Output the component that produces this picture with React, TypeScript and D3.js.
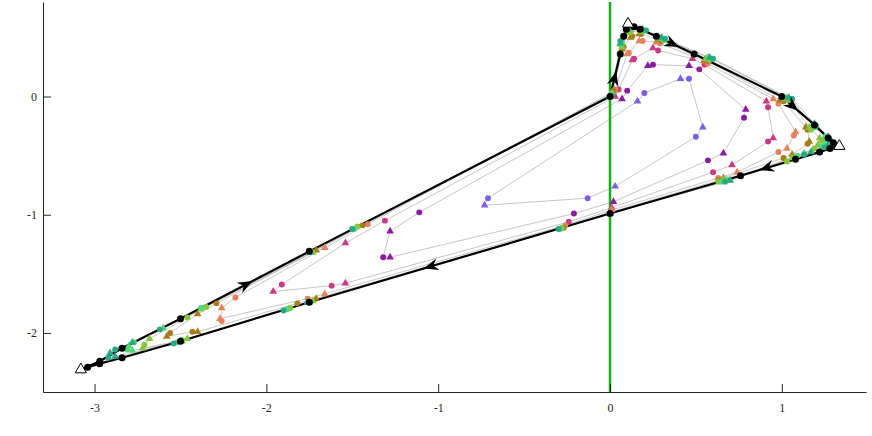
import React, { useEffect, useRef } from 'react';
import * as d3 from 'd3';

// closed loops, inner to outer; even index = triangle, odd index = circle
const loopBlue = [[0.16,-0.04],[0.20,0.03],[0.41,0.15],[0.46,0.15],[0.54,-0.26],[0.50,-0.34],[0.03,-0.76],[-0.13,-0.86],[-0.73,-0.92],[-0.71,-0.86]];
const loopPurple = [[0.07,-0.02],[0.10,0.05],[0.22,0.26],[0.25,0.27],[0.46,0.26],[0.52,0.23],[0.79,-0.11],[0.78,-0.18],[0.66,-0.48],[0.57,-0.54],[0.02,-0.89],[-0.21,-0.99],[-1.28,-1.36],[-1.32,-1.36],[-1.28,-1.14],[-1.11,-0.98]];
const loopMagenta = [[0.03,0.00],[0.05,0.06],[0.13,0.31],[0.14,0.32],[0.25,0.41],[0.28,0.39],[0.48,0.32],[0.55,0.27],[0.91,-0.04],[0.92,-0.09],[0.95,-0.35],[0.92,-0.38],[0.71,-0.58],[0.60,-0.64],[0.01,-0.94],[-0.24,-1.06],[-1.54,-1.58],[-1.62,-1.60],[-1.96,-1.65],[-1.91,-1.59],[-1.54,-1.24],[-1.31,-1.05]];
const loopSalmon = [[0.02,0.04],[0.03,0.06],[0.10,0.36],[0.11,0.37],[0.17,0.47],[0.19,0.47],[0.27,0.46],[0.29,0.45],[0.55,0.30],[0.57,0.28],[0.95,-0.02],[0.98,-0.06],[1.08,-0.30],[1.07,-0.33],[1.03,-0.44],[0.98,-0.47],[0.74,-0.64],[0.63,-0.69],[0.01,-0.96],[-0.26,-1.09],[-1.66,-1.67],[-1.76,-1.71],[-2.27,-1.88],[-2.26,-1.90],[-2.26,-1.79],[-2.18,-1.70],[-1.66,-1.28],[-1.41,-1.08]];
const loopOlive = [[0.01,0.02],[0.02,0.05],[0.07,0.40],[0.08,0.42],[0.12,0.50],[0.13,0.51],[0.17,0.53],[0.18,0.53],[0.28,0.48],[0.30,0.47],[0.55,0.31],[0.57,0.30],[0.99,-0.03],[1.01,-0.04],[1.14,-0.26],[1.15,-0.28],[1.16,-0.38],[1.15,-0.40],[1.06,-0.49],[1.01,-0.52],[0.66,-0.69],[0.63,-0.71],[0.00,-0.98],[-0.27,-1.11],[-1.71,-1.71],[-1.82,-1.75],[-2.40,-1.99],[-2.43,-1.99],[-2.58,-2.03],[-2.56,-2.00],[-2.40,-1.84],[-2.29,-1.75],[-1.71,-1.30],[-1.44,-1.09]];
const loopLime = [[0.00,0.01],[0.01,0.03],[0.07,0.42],[0.07,0.44],[0.11,0.54],[0.12,0.55],[0.18,0.55],[0.19,0.55],[0.29,0.49],[0.31,0.48],[0.56,0.32],[0.58,0.31],[1.02,-0.02],[1.04,-0.03],[1.16,-0.26],[1.17,-0.28],[1.22,-0.35],[1.23,-0.37],[1.21,-0.41],[1.19,-0.44],[1.06,-0.52],[1.03,-0.55],[0.66,-0.70],[0.63,-0.72],[0.00,-0.99],[-0.28,-1.11],[-1.73,-1.73],[-1.86,-1.79],[-2.46,-2.05],[-2.49,-2.06],[-2.72,-2.13],[-2.71,-2.10],[-2.68,-2.05],[-2.46,-1.87],[-2.38,-1.80],[-2.35,-1.78],[-1.73,-1.32],[-1.47,-1.10]];
const loopGreen = [[0.00,0.00],[0.01,0.02],[0.06,0.44],[0.07,0.46],[0.10,0.56],[0.11,0.57],[0.19,0.56],[0.20,0.56],[0.30,0.49],[0.32,0.48],[0.57,0.33],[0.59,0.32],[1.03,-0.01],[1.05,-0.02],[1.18,-0.24],[1.19,-0.26],[1.25,-0.34],[1.26,-0.36],[1.25,-0.40],[1.23,-0.42],[1.13,-0.48],[1.09,-0.50],[0.68,-0.71],[0.65,-0.72],[0.00,-0.99],[-0.29,-1.12],[-1.75,-1.74],[-1.88,-1.80],[-2.49,-2.07],[-2.52,-2.08],[-2.78,-2.15],[-2.81,-2.14],[-2.80,-2.11],[-2.77,-2.08],[-2.60,-1.96],[-2.38,-1.79],[-1.74,-1.32],[-1.49,-1.12]];
const loopTeal = [[0.00,0.00],[0.01,0.01],[0.06,0.45],[0.06,0.47],[0.10,0.57],[0.11,0.58],[0.19,0.57],[0.21,0.56],[0.30,0.50],[0.32,0.49],[0.58,0.33],[0.60,0.32],[1.04,-0.01],[1.06,-0.02],[1.19,-0.23],[1.20,-0.25],[1.27,-0.34],[1.28,-0.37],[1.27,-0.41],[1.25,-0.43],[1.17,-0.47],[1.13,-0.49],[0.70,-0.71],[0.67,-0.72],[0.00,-0.99],[-0.30,-1.12],[-1.76,-1.74],[-1.90,-1.81],[-2.50,-2.07],[-2.54,-2.09],[-2.88,-2.20],[-2.92,-2.21],[-2.91,-2.17],[-2.88,-2.14],[-2.78,-2.08],[-2.62,-1.97],[-1.75,-1.32],[-1.50,-1.12]];

const loopColors = ['#7b5fe4', '#8a1c9e', '#c83d82', '#e3825c', '#a67c1c', '#87c53a', '#52d67c', '#2aa882'];

// limit path (black)
const limitPath = [[0,0],[0.06,0.36],[0.08,0.51],[0.095,0.57],[0.105,0.61],[0.14,0.59],[0.175,0.57],[0.27,0.51],[0.49,0.36],[1.00,0.00],[1.19,-0.24],[1.27,-0.35],[1.30,-0.39],[1.33,-0.42],[1.28,-0.44],[1.22,-0.47],[1.08,-0.53],[0.76,-0.67],[0,-0.99],[-1.75,-1.74],[-2.50,-2.07],[-2.84,-2.21],[-2.97,-2.26],[-3.04,-2.29],[-3.08,-2.31],[-2.97,-2.24],[-2.84,-2.13],[-2.50,-1.88],[-1.75,-1.31],[0,0]];
const limitDots = [[0,0],[0.06,0.36],[0.08,0.51],[0.095,0.57],[0.14,0.59],[0.175,0.57],[0.27,0.51],[0.49,0.36],[1.00,0.00],[1.19,-0.24],[1.27,-0.35],[1.30,-0.39],[1.28,-0.44],[1.22,-0.47],[1.08,-0.53],[0.76,-0.67],[0,-0.99],[-1.75,-1.74],[-2.50,-2.07],[-2.84,-2.21],[-2.97,-2.26],[-3.04,-2.29],[-2.97,-2.24],[-2.84,-2.13],[-2.50,-1.88],[-1.75,-1.31]];
const corners = [[-3.08,-2.31],[0.105,0.615],[1.335,-0.42]];
// arrows: [segment start index in limitPath, fraction along segment]
const arrows = [[27,0.56],[0,0.6],[7,0.6],[9,0.5],[16,0.66],[18,0.62]];

const xTicks = [-3, -2, -1, 0, 1];
const yTicks = [-2, -1, 0];

const App = () => {
    const ref = useRef(null);

    useEffect(() => {
        document.body.style.margin = '0';
        const svg = d3.select(ref.current);
        svg.selectAll('*').remove();

        const width = 872, height = 436;
        const x = d3.scaleLinear().domain([-3.3, 1.49]).range([43, 866]);
        const y = d3.scaleLinear().domain([-2.5, 0.8]).range([392, 2]);

        svg.attr('width', width).attr('height', height);

        const loops = [loopBlue, loopPurple, loopMagenta, loopSalmon, loopOlive, loopLime, loopGreen, loopTeal];
        const line = d3.line().x(d => x(d[0])).y(d => y(d[1]));

        // thin grey connectors
        svg.append('g').selectAll('path')
            .data(loops)
            .enter().append('path')
            .attr('d', d => line(d) + 'Z')
            .attr('fill', 'none')
            .attr('stroke', '#b8b8b8')
            .attr('stroke-width', 0.8);

        // x = 0 line
        svg.append('line')
            .attr('x1', x(0)).attr('x2', x(0))
            .attr('y1', y(0.8)).attr('y2', y(-2.5))
            .attr('stroke', '#10b310')
            .attr('stroke-width', 2.5);

        // limit path
        svg.append('path')
            .attr('d', line(limitPath))
            .attr('fill', 'none')
            .attr('stroke', '#000')
            .attr('stroke-width', 2.2)
            .attr('stroke-linejoin', 'round');

        const tri = d3.symbol(d3.symbolTriangle, 26)();
        const dot = d3.symbol(d3.symbolCircle, 28)();

        loops.forEach((pts, k) => {
            svg.append('g').selectAll('path')
                .data(pts)
                .enter().append('path')
                .attr('d', (d, i) => (i % 2 === 0 ? tri : dot))
                .attr('transform', d => `translate(${x(d[0])},${y(d[1])})`)
                .attr('fill', loopColors[k]);
        });

        svg.append('g').selectAll('circle')
            .data(limitDots)
            .enter().append('circle')
            .attr('cx', d => x(d[0]))
            .attr('cy', d => y(d[1]))
            .attr('r', 3.5)
            .attr('fill', '#000');

        svg.append('g').selectAll('path')
            .data(corners)
            .enter().append('path')
            .attr('d', d3.symbol(d3.symbolTriangle, 55)())
            .attr('transform', d => `translate(${x(d[0])},${y(d[1])})`)
            .attr('fill', '#fff')
            .attr('stroke', '#000')
            .attr('stroke-width', 1);

        svg.append('g').selectAll('path')
            .data(arrows)
            .enter().append('path')
            .attr('d', 'M0,0L-15,-6L-10,0L-15,6Z')
            .attr('transform', d => {
                const a = limitPath[d[0]], b = limitPath[d[0] + 1];
                const ax = x(a[0]), ay = y(a[1]), bx = x(b[0]), by = y(b[1]);
                const px = ax + (bx - ax) * d[1], py = ay + (by - ay) * d[1];
                const ang = Math.atan2(by - ay, bx - ax) * 180 / Math.PI;
                return `translate(${px},${py}) rotate(${ang})`;
            })
            .attr('fill', '#000');

        // axes
        const gx = svg.append('g')
            .attr('transform', `translate(0,${y(-2.5)})`)
            .call(d3.axisBottom(x).tickValues(xTicks).tickSize(-8).tickSizeOuter(0).tickPadding(11));
        const gy = svg.append('g')
            .attr('transform', `translate(${x(-3.3)},0)`)
            .call(d3.axisLeft(y).tickValues(yTicks).tickSize(-8).tickSizeOuter(0).tickPadding(6));

        [gx, gy].forEach(g => {
            g.attr('font-family', '"Liberation Serif", serif').attr('font-size', 12);
            g.selectAll('path, line').attr('stroke', '#262626');
            g.selectAll('text').attr('fill', '#262626');
        });
        // plain hyphen for negatives
        svg.selectAll('.tick text').text(d => String(d));
    }, []);

    return <svg ref={ref}></svg>;
};

export default App;
